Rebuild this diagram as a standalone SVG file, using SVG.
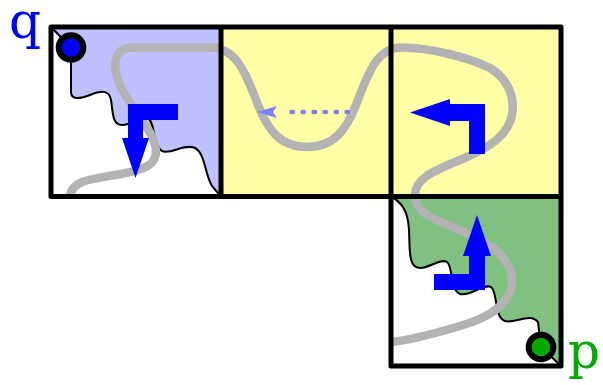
<svg xmlns="http://www.w3.org/2000/svg" width="603" height="385" viewBox="0 0 603 385">
  <style>
    .wave { fill: none; stroke: #000; stroke-width: 2; stroke-linejoin: round; }
    .route { fill: none; stroke: #b3b3b3; stroke-width: 8.5; stroke-linecap: butt; }
    .grid { fill: none; stroke: #000; stroke-width: 5; stroke-linejoin: round; stroke-linecap: round; }
    .turn { fill: #0000ff; stroke: none; }
    .hint { fill: none; stroke: #8080ff; stroke-width: 4.5; stroke-linecap: round; stroke-dasharray: 1.5 9.5; }
    .end { stroke: #000; stroke-width: 6; }
    .label { font-family: "DejaVu Serif", "Liberation Serif", serif; font-size: 50px; }
  </style>
  <rect x="0" y="0" width="603" height="385" fill="#fff"/>

  <!-- cell fills -->
  <g id="cell-a">
    <path fill="#c0c0ff" d="M51,27 L221,27 L221,196.5 L212,186 C205,175 205,153 195,148 C185,143 170,155 162,151 C153,146 155,120 147,118 C140,117 132,125 122,125 C112,125 113,112 111,100 C109,89 100,91 90,95 C80,99 71,100 71,92 L71,47.5 Z"/>
    <path class="wave" d="M51,27 L71,47.5 L71,92 C71,100 80,99 90,95 C100,91 109,89 111,100 C113,112 112,125 122,125 C132,125 140,117 147,118 C155,120 153,146 162,151 C170,155 185,143 195,148 C205,153 205,175 212,186 L221,196.5"/>
  </g>
  <g id="cell-b">
    <rect x="221" y="27" width="170" height="169.5" fill="#ffffa6"/>
  </g>
  <g id="cell-c">
    <rect x="391" y="27" width="170" height="169.5" fill="#ffffa6"/>
  </g>
  <g id="cell-d">
    <path fill="#80c080" d="M391,196.5 L561,196.5 L561,366 L541,347 L538,322 C530,312 515,324 505,321 C494,318 498,292 491,287 C484,283 470,297 460,294 C450,290 453,266 447,262 C440,258 430,268 420,268 C408,268 410,250 409,230 C408,210 401,202 391,196.5 Z"/>
    <path class="wave" d="M391,196.5 C401,202 408,210 409,230 C410,250 408,268 420,268 C430,268 440,258 447,262 C453,266 450,290 460,294 C470,297 484,283 491,287 C498,292 494,318 505,321 C515,324 530,312 538,322 L541,347 L561,366"/>
  </g>

  <!-- connectors: route, grid, turn markers -->
  <g id="connectors">
    <path class="route" d="M70,196 C72,182 85,180 115,175 C145,170 160,165 155,145 C150,125 128,105 120,85 C112,65 112,47.5 135,47.5 L210,47.5 C235,47.5 245,70 258,105 C268,130 280,147 307,147 C334,147 346,130 356,105 C369,70 378,47.5 402,47.5 C430,47.5 470,58 490,68 C510,80 515,100 512,115 C508,135 490,148 460,160 C430,172 415,180 415,195 C415,212 430,218 460,230 C495,244 512,262 512,280 C512,300 495,316 460,326 C430,335 410,340 391,342"/>
    <path class="grid" d="M51,27 L561,27 L561,366 L391,366 L391,196.5 L51,196.5 Z M221,27 L221,196.5 M391,27 L391,196.5 M391,196.5 L561,196.5"/>
    <path class="turn" d="M178,104 L128,104 L128,138 L122,138 L135.5,178 L149,138 L143,138 L143,120 L178,120 Z"/>
    <path class="hint" d="M348,112 L282,112"/>
    <path fill="#8080ff" d="M257,112 L277,106 L273,112 L277,118 Z"/>
    <path class="turn" d="M485,154 L469,154 L469,121 L450,121 L450,126 L410,112.5 L450,99 L450,104 L485,104 Z"/>
    <path class="turn" d="M434,290 L485,290 L485,256 L491,256 L477,215 L463,256 L469,256 L469,274 L434,274 Z"/>
  </g>

  <!-- endpoints -->
  <g id="q">
    <circle class="end" cx="71" cy="47.5" r="12.3" fill="#0000ff"/>
    <text class="label" x="9" y="38" fill="#0000ff">q</text>
  </g>
  <g id="p">
    <circle class="end" cx="541" cy="347" r="12.3" fill="#00aa00"/>
    <text class="label" x="568" y="368" fill="#00aa00">p</text>
  </g>
</svg>
